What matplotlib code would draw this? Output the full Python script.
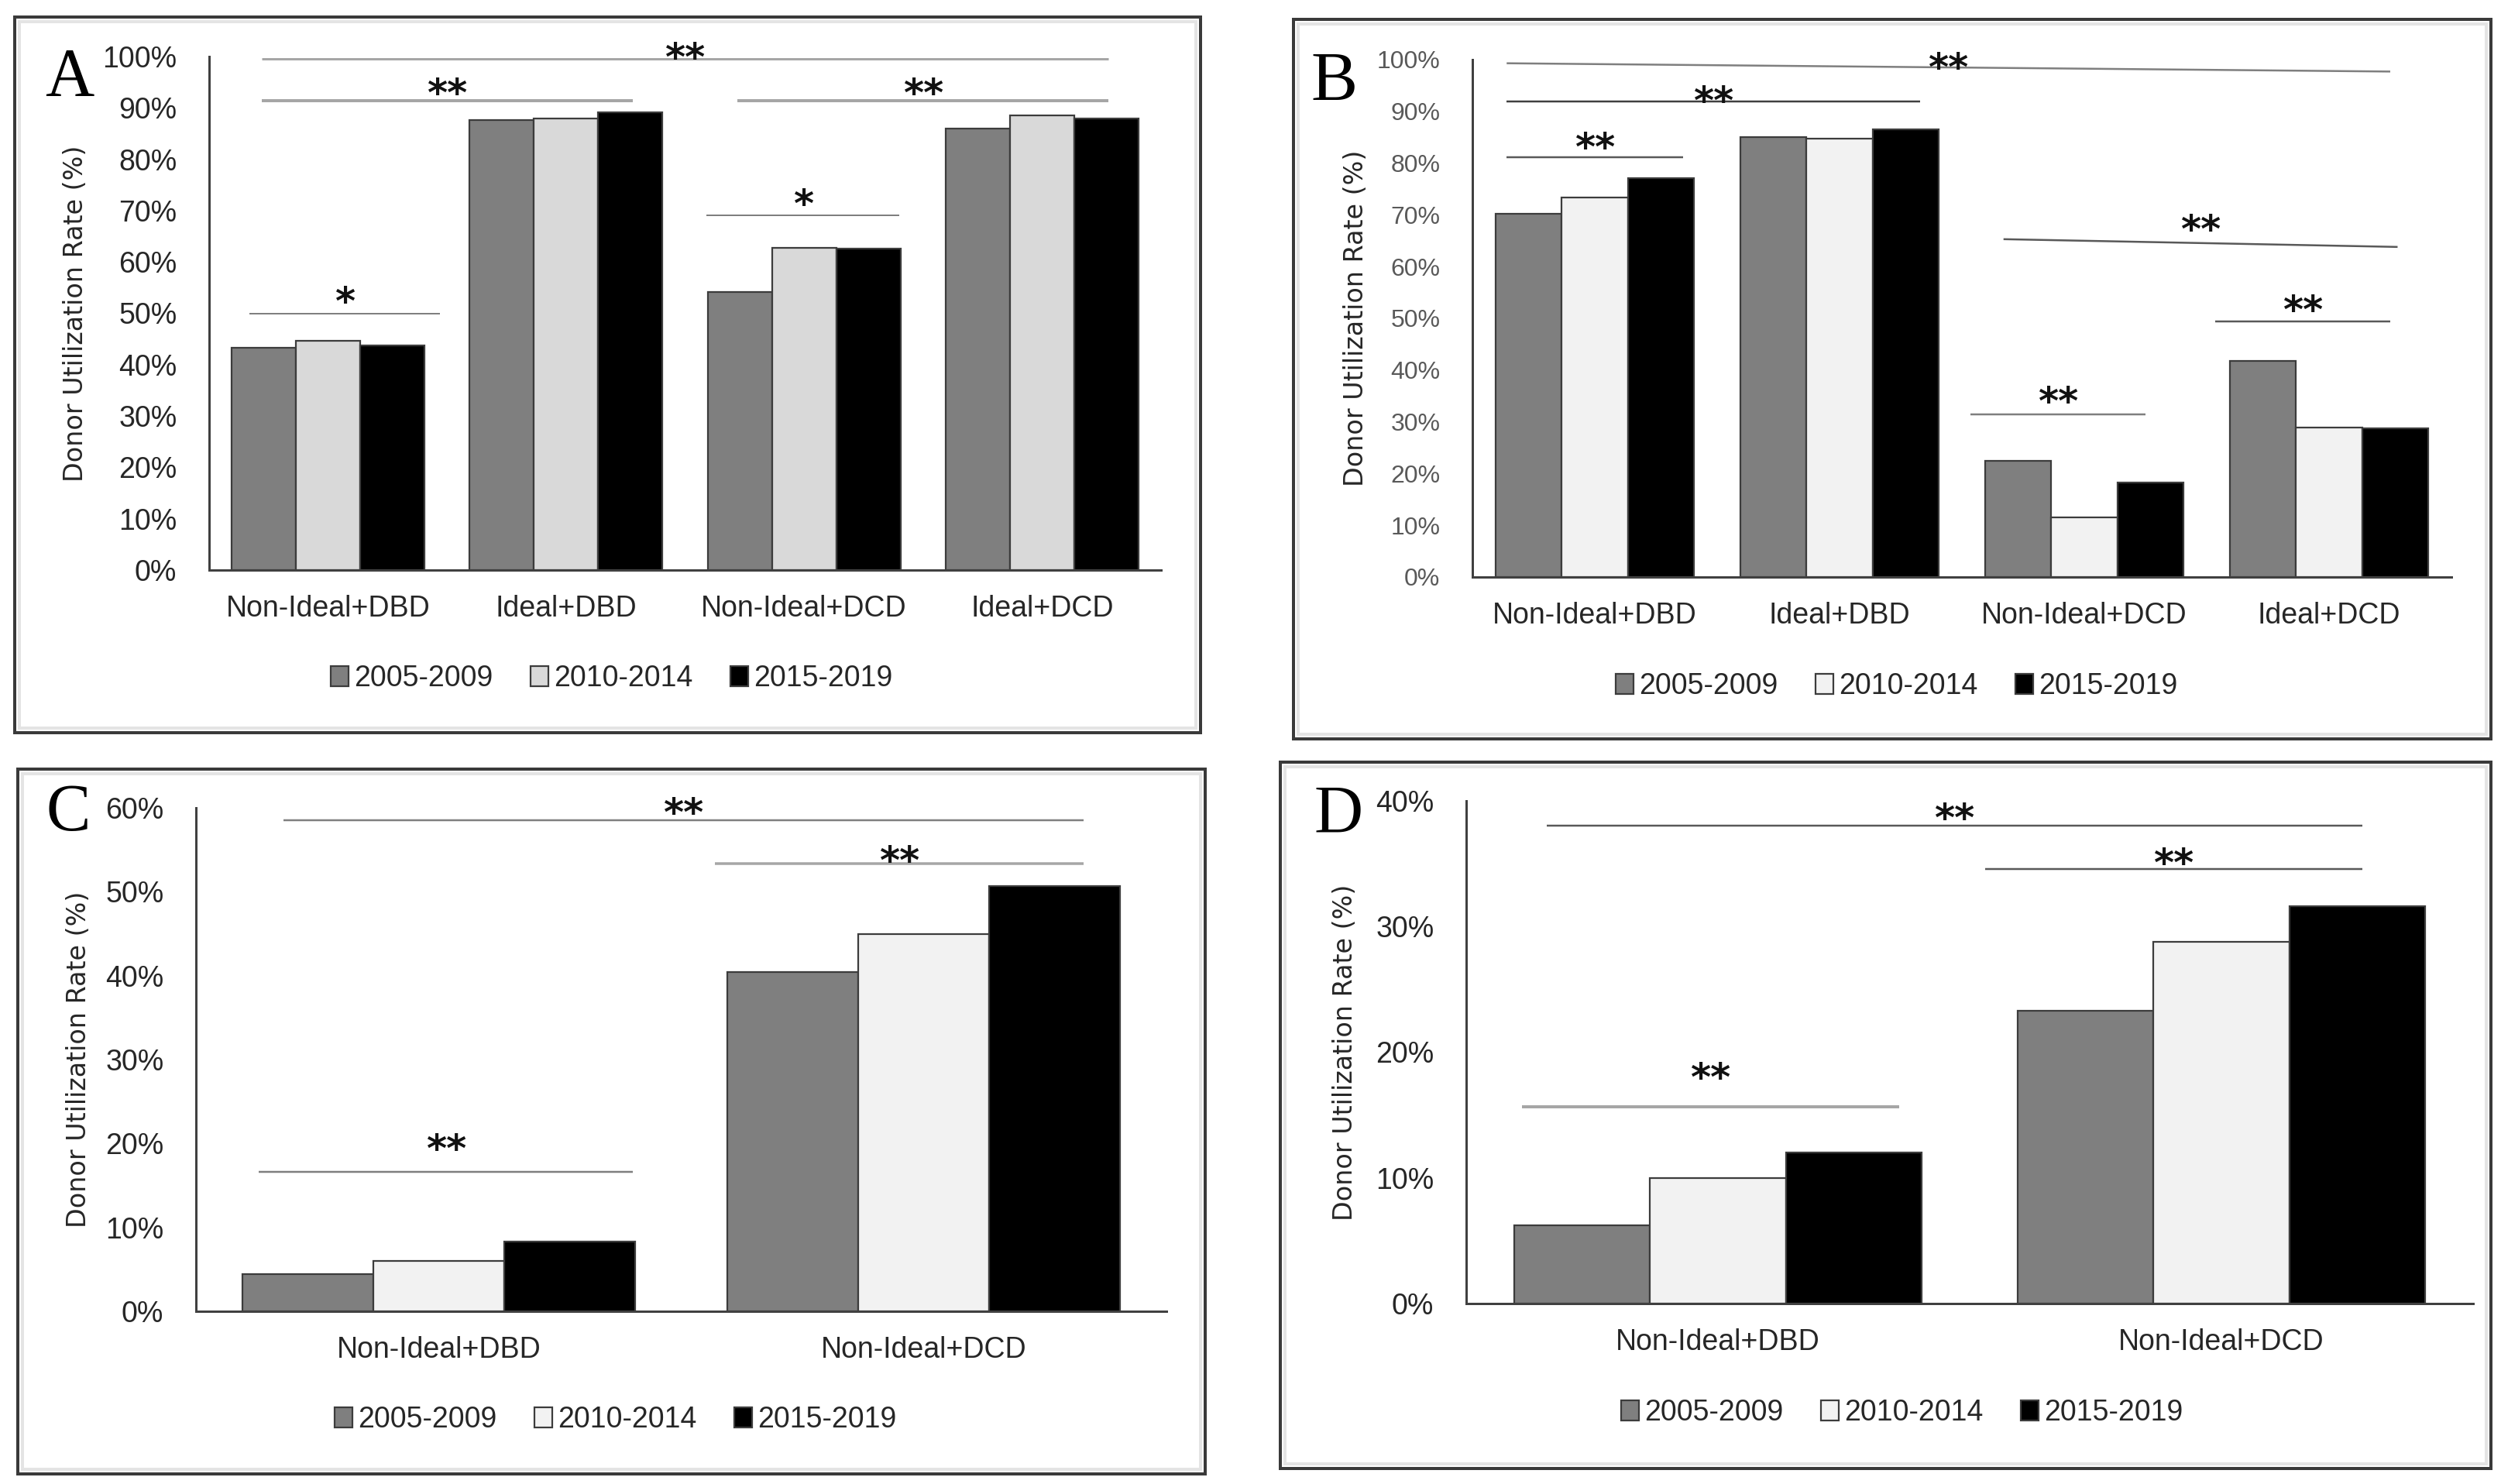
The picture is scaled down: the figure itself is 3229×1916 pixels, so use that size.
import matplotlib
matplotlib.use("Agg")
import matplotlib.pyplot as plt
import matplotlib.patches as mpatches
import numpy as np

W, H = 3229, 1916

periods = ["2005-2009", "2010-2014", "2015-2019"]
groups_four = ["Non-Ideal+DBD", "Ideal+DBD", "Non-Ideal+DCD", "Ideal+DCD"]
groups_two = ["Non-Ideal+DBD", "Non-Ideal+DCD"]

# panel A
a_2005 = [43.3, 87.6, 54.2, 86.0]
a_2010 = [44.6, 87.9, 62.8, 88.6]
a_2015 = [43.7, 89.2, 62.6, 88.0]
# panel B
b_2005 = [70.2, 85.0, 22.4, 41.7]
b_2010 = [73.3, 84.7, 11.6, 28.9]
b_2015 = [77.1, 86.6, 18.2, 28.8]
# panel C
c_2005 = [4.4, 40.4]
c_2010 = [6.0, 45.0]
c_2015 = [8.3, 50.7]
# panel D
d_2005 = [6.2, 23.3]
d_2010 = [10.0, 28.8]
d_2015 = [12.0, 31.6]

# significance lines: x0, x1, y0, y1, stars
a_sig = [(-0.33, 0.47, 50.0, 50.0, "*"), (-0.28, 1.28, 91.4, 91.4, "**"),
         (-0.28, 3.28, 99.6, 99.6, "**"), (1.72, 3.28, 91.4, 91.4, "**"),
         (1.59, 2.40, 69.1, 69.1, "*")]
b_sig = [(-0.36, 0.36, 81.1, 81.1, "**"), (-0.36, 1.33, 91.9, 91.9, "**"),
         (-0.36, 3.25, 99.3, 97.7, "**"), (1.67, 3.28, 65.3, 63.8, "**"),
         (2.535, 3.25, 49.4, 49.4, "**"), (1.535, 2.25, 31.4, 31.4, "**")]
c_sig = [(-0.32, 1.33, 58.5, 58.5, "**"), (0.57, 1.33, 53.4, 53.4, "**"),
         (-0.37, 0.40, 16.6, 16.6, "**")]
d_sig = [(-0.34, 1.28, 38.0, 38.0, "**"), (0.53, 1.28, 34.6, 34.6, "**"),
         (-0.39, 0.36, 15.65, 15.65, "**")]

# line styles per significance line (colour, width px, star offset px)
a_sty = [("#7f7f7f", 2, 27), ("#a6a6a6", 4, 22), ("#a6a6a6", 3, 14),
         ("#a6a6a6", 4, 22), ("#7f7f7f", 2, 27)]
b_sty = [("#595959", 2.5, 25), ("#404040", 2.5, 13), ("#7f7f7f", 2.5, 12),
         ("#595959", 2.5, 30), ("#595959", 2.5, 27), ("#7f7f7f", 2.5, 29)]
c_sty = [("#7f7f7f", 2.5, 22), ("#a6a6a6", 3.5, 16), ("#7f7f7f", 2.5, 42)]
d_sty = [("#595959", 2.5, 22), ("#595959", 2.5, 20), ("#a6a6a6", 4, 50)]

PX = 72.0 / 100.0  # points per pixel at dpi 100


def frame(fig, l, t, r, b):
    outer = mpatches.Rectangle((l / W, 1 - b / H), (r - l) / W, (b - t) / H,
                               transform=fig.transFigure, fill=False,
                               ec="#3a3a3a", lw=4 * PX, zorder=0)
    inner = mpatches.Rectangle(((l + 6) / W, 1 - (b - 6) / H), (r - l - 12) / W,
                               (b - t - 12) / H, transform=fig.transFigure,
                               fill=False, ec="#e4e4e4", lw=4 * PX, zorder=0)
    fig.patches.extend([outer, inner])


def panel(fig, box, axbox, letter, letter_xy, letter_size, cats, series,
          light, ymax, ytick_size, ytick_color, ylabel_x, legend_xy, sig, sty):
    frame(fig, *box)
    l, t, r, b = axbox
    ax = fig.add_axes([l / W, 1 - b / H, (r - l) / W, (b - t) / H])
    x = np.arange(len(cats))
    w = 0.27
    colors = ["#7f7f7f", light, "#000000"]
    for i, (vals, lab) in enumerate(zip(series, periods)):
        ax.bar(x + (i - 1) * w, vals, w, color=colors[i], edgecolor="#3c3c3c",
               linewidth=1.6, label=lab, zorder=2)
    ax.set_xlim(-0.5, len(cats) - 0.5)
    ax.set_ylim(0, ymax)
    ticks = np.arange(0, ymax + 1, 10)
    ax.set_yticks(ticks)
    ax.set_yticklabels([f"{v:.0f}%" for v in ticks])
    ax.set_xticks(x)
    ax.set_xticklabels(cats)
    for s in ["top", "right"]:
        ax.spines[s].set_visible(False)
    for s in ["left", "bottom"]:
        ax.spines[s].set_color("#404040")
        ax.spines[s].set_linewidth(3 * PX)
    ax.tick_params(axis="y", length=0, pad=30, labelsize=ytick_size,
                   labelcolor=ytick_color)
    ax.tick_params(axis="x", length=0, pad=23, labelsize=27, labelcolor="#262626")
    for lab in ax.get_xticklabels() + ax.get_yticklabels():
        lab.set_family("Liberation Sans")

    fs = 36
    for (x0, x1, y0, y1, stars), (col, lw, off) in zip(sig, sty):
        ax.plot([x0, x1], [y0, y1], color=col, lw=lw * PX,
                solid_capstyle="butt", clip_on=False, zorder=3)
        xm = (x0 + x1) / 2
        ym = (y0 + y1) / 2
        # baseline so that the star glyph centre sits `off` px above the line
        ax.annotate(stars, (xm, ym), xytext=(0, off - 0.58 * fs / PX),
                    textcoords="offset pixels", ha="center", va="baseline",
                    fontsize=fs, fontweight="bold", family="DejaVu Sans",
                    color="#111111", annotation_clip=False)

    cy = 1 - (t + b) / 2 / H
    fig.text(ylabel_x / W, cy, "Donor Utilization Rate (%)", rotation=90,
             ha="center", va="center", fontsize=24, family="DejaVu Sans",
             color="#262626")
    fig.text(letter_xy[0] / W, 1 - letter_xy[1] / H, letter, ha="center",
             va="baseline", fontsize=letter_size, family="Liberation Serif",
             color="#000000")
    ax.legend(loc="center", bbox_to_anchor=(legend_xy[0] / W, 1 - legend_xy[1] / H),
              bbox_transform=fig.transFigure, ncol=3, frameon=False,
              prop={"family": "Liberation Sans", "size": 27},
              handlelength=0.6, handleheight=0.7, handletextpad=0.2,
              columnspacing=1.3, borderpad=0, labelcolor="#262626")
    return ax


def main():
    fig = plt.figure(figsize=(W / 100, H / 100), dpi=100)
    fig.patch.set_facecolor("white")

    panel(fig, (19, 22, 1550, 946), (270, 73, 1499, 736), "A", (90, 123), 63,
          groups_four, [a_2005, a_2010, a_2015], "#d9d9d9", 100, 27, "#262626",
          98, (790, 876), a_sig, a_sty)
    panel(fig, (1670, 25, 3216, 954), (1901, 77, 3165, 745), "B", (1722, 130), 65,
          groups_four, [b_2005, b_2010, b_2015], "#f2f2f2", 100, 23, "#595959",
          1751, (2449, 886), b_sig, b_sty)
    panel(fig, (23, 993, 1556, 1903), (253, 1043, 1506, 1693), "C", (88, 1072), 62,
          groups_two, [c_2005, c_2010, c_2015], "#f2f2f2", 60, 27, "#262626",
          102, (795, 1833), c_sig, c_sty)
    panel(fig, (1653, 984, 3216, 1896), (1893, 1034, 3193, 1683), "D", (1728, 1075), 63,
          groups_two, [d_2005, d_2010, d_2015], "#f2f2f2", 40, 27, "#262626",
          1737, (2456, 1824), d_sig, d_sty)

    plt.savefig("out.png", dpi=100, facecolor="white")


if __name__ == "__main__":
    main()
